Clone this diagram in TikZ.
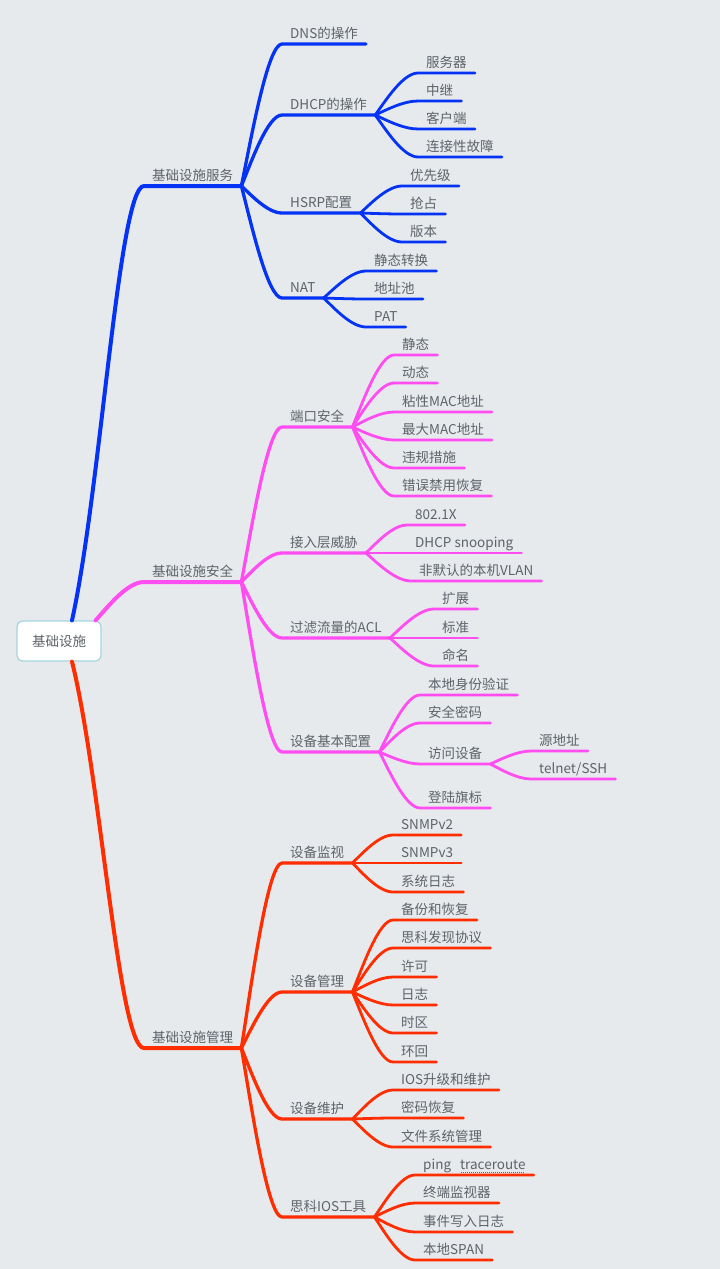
\documentclass[tikz,border=0pt]{standalone}
\usepackage{fontspec}
\setmainfont{Noto Sans CJK SC}
\usetikzlibrary{calc}

\definecolor{bgcol}{HTML}{E6EAED}
\definecolor{svcblue}{HTML}{0433F5}
\definecolor{secpink}{HTML}{FF4DF2}
\definecolor{mgmtred}{HTML}{FF2D00}
\definecolor{labelgray}{HTML}{5E636A}
\definecolor{rootedge}{HTML}{A3D6DE}

% red dots under a word, as the editor marks it
\newcommand{\spellmark}[1]{\setbox0\hbox{#1}\rlap{\raisebox{-3bp}{\color{mgmtred}\leaders\hbox to 2bp{\hss\rule{1bp}{0.8bp}\hss}\hskip\wd0}}\box0}

\tikzset{
    labelfont/.style={font=\fontsize{13.5bp}{16bp}\selectfont},
    topic/.style={labelfont, anchor=south west, inner xsep=8bp, inner ysep=0pt,
        text height=10bp, text depth=5.5bp, text=labelgray},
    fork/.style={to path={let \p1=(\tikztostart), \p2=(\tikztotarget) in
        .. controls ({\x1+0.25*(\x2-\x1)},{\y1+0.35*(\y2-\y1)})
        and ({\x2-0.35*(\x2-\x1)},\y2) .. (\tikztotarget)}},
    trunk/.style={to path={let \p1=(\tikztostart), \p2=(\tikztotarget) in
        .. controls ({\x1+0.4*(\x2-\x1)},{\y1+0.3*(\y2-\y1)})
        and ({\x2-0.35*(\x2-\x1)},\y2) .. (\tikztotarget)}},
    lvlone/.style={line width=4bp, line cap=round},
    lvltwo/.style={line width=3.3bp, line cap=round},
    lvlthree/.style={line width=2.8bp, line cap=round}
}

\begin{document}
\begin{tikzpicture}[x=1bp,y=-1bp]
    \fill[bgcol] (0,0) rectangle (720,1269);
    \useasboundingbox (0,0) rectangle (720,1269);

    \node[labelfont, draw=rootedge, fill=white, rounded corners=6bp, line width=1.2bp,
        minimum width=84bp, minimum height=40bp, text=labelgray] (root) at (59,641) {基础设施};

    % services
    \node[topic] (svc) at (144,186) {基础设施服务};
    \node[topic] (dns) at (282,44) {DNS的操作};
    \node[topic] (dhcp) at (282,115) {DHCP的操作};
    \node[topic] (hsrp) at (282,213) {HSRP配置};
    \node[topic] (nat) at (282,298) {NAT};
    \node[topic] (server) at (418,73) {服务器};
    \node[topic] (relay) at (418,101) {中继};
    \node[topic] (client) at (418,129) {客户端};
    \node[topic] (fault) at (418,157) {连接性故障};
    \node[topic] (prio) at (402,186) {优先级};
    \node[topic] (preempt) at (402,214) {抢占};
    \node[topic] (version) at (402,242) {版本};
    \node[topic] (static) at (366,271) {静态转换};
    \node[topic] (pool) at (366,299) {地址池};
    \node[topic] (pat) at (366,327) {PAT};

    \draw[lvlone, svcblue] ([xshift=13bp]root.north) to[trunk] (svc.south west) -- (svc.south east);
    \draw[lvltwo, svcblue] (svc.south east) to[fork] (dns.south west) -- (dns.south east);
    \draw[lvltwo, svcblue] (svc.south east) to[fork] (dhcp.south west) -- (dhcp.south east);
    \draw[lvltwo, svcblue] (svc.south east) to[fork] (hsrp.south west) -- (hsrp.south east);
    \draw[lvltwo, svcblue] (svc.south east) to[fork] (nat.south west) -- (nat.south east);
    \draw[lvlthree, svcblue] (dhcp.south east) to[fork] (server.south west) -- (server.south east);
    \draw[lvlthree, svcblue] (dhcp.south east) to[fork] (relay.south west) -- (relay.south east);
    \draw[lvlthree, svcblue] (dhcp.south east) to[fork] (client.south west) -- (client.south east);
    \draw[lvlthree, svcblue] (dhcp.south east) to[fork] (fault.south west) -- (fault.south east);
    \draw[lvlthree, svcblue] (hsrp.south east) to[fork] (prio.south west) -- (prio.south east);
    \draw[lvlthree, svcblue] (hsrp.south east) to[fork] (preempt.south west) -- (preempt.south east);
    \draw[lvlthree, svcblue] (hsrp.south east) to[fork] (version.south west) -- (version.south east);
    \draw[lvlthree, svcblue] (nat.south east) to[fork] (static.south west) -- (static.south east);
    \draw[lvlthree, svcblue] (nat.south east) to[fork] (pool.south west) -- (pool.south east);
    \draw[lvlthree, svcblue] (nat.south east) to[fork] (pat.south west) -- (pat.south east);

    % security
    \node[topic] (sec) at (144,582) {基础设施安全};
    \node[topic] (port) at (282,427) {端口安全};
    \node[topic] (access) at (282,553) {接入层威胁};
    \node[topic] (acl) at (282,638) {过滤流量的ACL};
    \node[topic] (basic) at (282,752) {设备基本配置};
    \node[topic] (pstatic) at (394,355) {静态};
    \node[topic] (pdynamic) at (394,383) {动态};
    \node[topic] (sticky) at (394,412) {粘性MAC地址};
    \node[topic] (maxmac) at (394,440) {最大MAC地址};
    \node[topic] (violate) at (394,468) {违规措施};
    \node[topic] (errdis) at (394,496) {错误禁用恢复};
    \node[topic] (dotx) at (407,525) {802.1X};
    \node[topic] (snoop) at (407,553) {DHCP snooping};
    \node[topic] (native) at (411,581) {非默认的本机VLAN};
    \node[topic] (extended) at (434,609) {扩展};
    \node[topic] (standard) at (434,638) {标准};
    \node[topic] (named) at (434,666) {命名};
    \node[topic] (localauth) at (420,695) {本地身份验证};
    \node[topic] (secret) at (420,723) {安全密码};
    \node[topic] (remote) at (420,764) {访问设备};
    \node[topic] (banner) at (420,808) {登陆旗标};
    \node[topic] (srcaddr) at (531,751) {源地址};
    \node[topic] (telnet) at (531,779) {telnet/SSH};

    \draw[lvlone, secpink] ([xshift=-6bp]root.north east) to[fork] (sec.south west) -- (sec.south east);
    \draw[lvltwo, secpink] (sec.south east) to[fork] (port.south west) -- (port.south east);
    \draw[lvltwo, secpink] (sec.south east) to[fork] (access.south west) -- (access.south east);
    \draw[lvltwo, secpink] (sec.south east) to[fork] (acl.south west) -- (acl.south east);
    \draw[lvltwo, secpink] (sec.south east) to[fork] (basic.south west) -- (basic.south east);
    \draw[lvlthree, secpink] (port.south east) to[fork] (pstatic.south west) -- (pstatic.south east);
    \draw[lvlthree, secpink] (port.south east) to[fork] (pdynamic.south west) -- (pdynamic.south east);
    \draw[lvlthree, secpink] (port.south east) to[fork] (sticky.south west) -- (sticky.south east);
    \draw[lvlthree, secpink] (port.south east) to[fork] (maxmac.south west) -- (maxmac.south east);
    \draw[lvlthree, secpink] (port.south east) to[fork] (violate.south west) -- (violate.south east);
    \draw[lvlthree, secpink] (port.south east) to[fork] (errdis.south west) -- (errdis.south east);
    \draw[lvlthree, secpink] (access.south east) to[fork] (dotx.south west) -- (dotx.south east);
    \draw[lvlthree, secpink] (access.south east) to[fork] (snoop.south west) -- (snoop.south east);
    \draw[lvlthree, secpink] (access.south east) to[fork] (native.south west) -- (native.south east);
    \draw[lvlthree, secpink] (acl.south east) to[fork] (extended.south west) -- (extended.south east);
    \draw[lvlthree, secpink] (acl.south east) to[fork] (standard.south west) -- (standard.south east);
    \draw[lvlthree, secpink] (acl.south east) to[fork] (named.south west) -- (named.south east);
    \draw[lvlthree, secpink] (basic.south east) to[fork] (localauth.south west) -- (localauth.south east);
    \draw[lvlthree, secpink] (basic.south east) to[fork] (secret.south west) -- (secret.south east);
    \draw[lvlthree, secpink] (basic.south east) to[fork] (remote.south west) -- (remote.south east);
    \draw[lvlthree, secpink] (basic.south east) to[fork] (banner.south west) -- (banner.south east);
    \draw[lvlthree, secpink] (remote.south east) to[fork] (srcaddr.south west) -- (srcaddr.south east);
    \draw[lvlthree, secpink] (remote.south east) to[fork] (telnet.south west) -- (telnet.south east);

    % management
    \node[topic] (mgmt) at (144,1048) {基础设施管理};
    \node[topic] (monitor) at (282,863) {设备监视};
    \node[topic] (manage) at (282,992) {设备管理};
    \node[topic] (maint) at (282,1119) {设备维护};
    \node[topic] (tools) at (282,1217) {思科IOS工具};
    \node[topic] (snmptwo) at (393,835) {SNMPv2};
    \node[topic] (snmpthree) at (393,863) {SNMPv3};
    \node[topic] (syslog) at (393,892) {系统日志};
    \node[topic] (backup) at (393,920) {备份和恢复};
    \node[topic] (cdp) at (393,948) {思科发现协议};
    \node[topic] (license) at (393,977) {许可};
    \node[topic] (logging) at (393,1005) {日志};
    \node[topic] (timezone) at (393,1033) {时区};
    \node[topic] (loopback) at (393,1062) {环回};
    \node[topic] (upgrade) at (393,1090) {IOS升级和维护};
    \node[topic] (pwrecov) at (393,1118) {密码恢复};
    \node[topic] (filesys) at (393,1147) {文件系统管理};
    \node[topic] (ping) at (415,1175) {ping\hspace{9bp}\spellmark{traceroute}};
    \node[topic] (termmon) at (415,1203) {终端监视器};
    \node[topic] (eventlog) at (415,1232) {事件写入日志};
    \node[topic] (span) at (415,1260) {本地SPAN};

    \draw[lvlone, mgmtred] ([xshift=13bp]root.south) to[trunk] (mgmt.south west) -- (mgmt.south east);
    \draw[lvltwo, mgmtred] (mgmt.south east) to[fork] (monitor.south west) -- (monitor.south east);
    \draw[lvltwo, mgmtred] (mgmt.south east) to[fork] (manage.south west) -- (manage.south east);
    \draw[lvltwo, mgmtred] (mgmt.south east) to[fork] (maint.south west) -- (maint.south east);
    \draw[lvltwo, mgmtred] (mgmt.south east) to[fork] (tools.south west) -- (tools.south east);
    \draw[lvlthree, mgmtred] (monitor.south east) to[fork] (snmptwo.south west) -- (snmptwo.south east);
    \draw[lvlthree, mgmtred] (monitor.south east) to[fork] (snmpthree.south west) -- (snmpthree.south east);
    \draw[lvlthree, mgmtred] (monitor.south east) to[fork] (syslog.south west) -- (syslog.south east);
    \draw[lvlthree, mgmtred] (manage.south east) to[fork] (backup.south west) -- (backup.south east);
    \draw[lvlthree, mgmtred] (manage.south east) to[fork] (cdp.south west) -- (cdp.south east);
    \draw[lvlthree, mgmtred] (manage.south east) to[fork] (license.south west) -- (license.south east);
    \draw[lvlthree, mgmtred] (manage.south east) to[fork] (logging.south west) -- (logging.south east);
    \draw[lvlthree, mgmtred] (manage.south east) to[fork] (timezone.south west) -- (timezone.south east);
    \draw[lvlthree, mgmtred] (manage.south east) to[fork] (loopback.south west) -- (loopback.south east);
    \draw[lvlthree, mgmtred] (maint.south east) to[fork] (upgrade.south west) -- (upgrade.south east);
    \draw[lvlthree, mgmtred] (maint.south east) to[fork] (pwrecov.south west) -- (pwrecov.south east);
    \draw[lvlthree, mgmtred] (maint.south east) to[fork] (filesys.south west) -- (filesys.south east);
    \draw[lvlthree, mgmtred] (tools.south east) to[fork] (ping.south west) -- (ping.south east);
    \draw[lvlthree, mgmtred] (tools.south east) to[fork] (termmon.south west) -- (termmon.south east);
    \draw[lvlthree, mgmtred] (tools.south east) to[fork] (eventlog.south west) -- (eventlog.south east);
    \draw[lvlthree, mgmtred] (tools.south east) to[fork] (span.south west) -- (span.south east);
\end{tikzpicture}
\end{document}
